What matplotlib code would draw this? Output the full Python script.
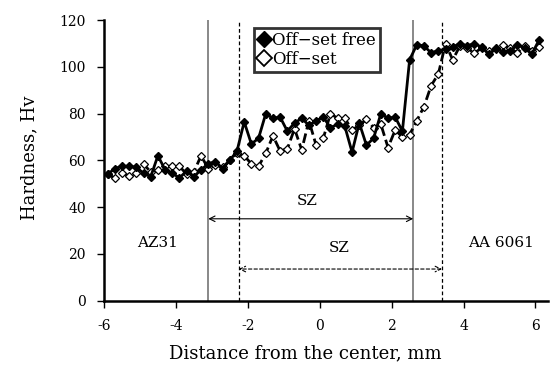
import numpy as np
import matplotlib
matplotlib.use("Agg")
import matplotlib.pyplot as plt
from matplotlib.lines import Line2D

# Hardness profile across the weld
distance = np.round(np.arange(-5.9, 6.11, 0.2), 1)

offset_free = [54, 56.5, 57.5, 57.5, 57, 54.5, 53, 62, 56, 54.5,
               52.5, 55.5, 53, 56, 58.5, 59.5, 56.5, 60, 64, 76.5,
               67, 69.5, 80, 78, 78.5, 72.5, 76, 78, 75, 77,
               78.5, 74, 75.5, 74.5, 63.5, 76, 66.5, 69.5, 80, 78,
               78.5, 72.5, 103, 109.5, 109, 106, 107, 107.5, 108.5, 110,
               109, 110, 108.5, 105.5, 108, 106.5, 107, 109.5, 108, 105.5,
               111.5]

offset = [54, 52.5, 54.5, 53.5, 54.5, 58.5, 55, 56, 57.5, 57.5,
          57.5, 54, 55, 62, 56.5, 58, 57, 60, 63, 62,
          58.5, 57.5, 63, 70.5, 64, 65, 73.5, 64.5, 77, 66.5,
          69.5, 80, 78, 78, 73, 75, 77.5, 74, 75.5, 65.5,
          73, 70, 71, 77, 83, 92, 97, 110, 103, 109,
          108, 106, 108, 107, 107.5, 109.5, 108, 106, 109, 107,
          108.5]

# zone boundaries (mm)
sz_free = (-3.1, 2.6)
sz_offset = (-2.25, 3.4)

plt.rcParams["font.family"] = ["DejaVu Serif"]
plt.rcParams["axes.unicode_minus"] = False

fig = plt.figure(figsize=(5.53, 3.67), dpi=100)
ax = fig.add_axes([0.188, 0.181, 0.803, 0.764])

# zone boundary lines
for xv in sz_free:
    ax.axvline(xv, color="#7f7f7f", lw=1.3, zorder=1)
for xv in sz_offset:
    ax.axvline(xv, color="black", lw=0.9, ls=(0, (3, 2)), zorder=1)

ax.plot(distance, offset, color="black", lw=2, ls=(0, (3.5, 1.5)),
        marker="D", ms=4.5, mfc="white", mec="black", mew=0.9, zorder=3)
ax.plot(distance, offset_free, color="black", lw=2,
        marker="D", ms=4.5, mfc="black", mec="black", zorder=4)

# SZ arrows
ax.annotate("", xy=(sz_free[0], 35), xytext=(sz_free[1], 35),
            arrowprops=dict(arrowstyle="<->", color="black", lw=0.8,
                            shrinkA=0, shrinkB=0))
ax.annotate("", xy=(sz_offset[0], 13.5), xytext=(sz_offset[1], 13.5),
            arrowprops=dict(arrowstyle="<->", color="black", lw=0.8,
                            ls=(0, (3, 2)), shrinkA=0, shrinkB=0))

ax.text(-0.35, 42.5, "SZ", ha="center", va="center", fontsize=11)
ax.text(0.55, 22.5, "SZ", ha="center", va="center", fontsize=11)
ax.text(-4.5, 24.5, "AZ31", ha="center", va="center", fontsize=11)
ax.text(5.05, 24.5, "AA 6061", ha="center", va="center", fontsize=11)

handles = [
    Line2D([], [], ls="none", marker="D", ms=8, mfc="black", mec="black"),
    Line2D([], [], ls="none", marker="D", ms=8, mfc="white", mec="black", mew=1.3),
]
leg = ax.legend(handles, ["Off\u2212set free", "Off\u2212set"],
                loc="upper left", bbox_to_anchor=(0.338, 0.972),
                fontsize=12, frameon=True, fancybox=False,
                handlelength=0.7, handletextpad=0.15, borderpad=0.25,
                labelspacing=0.12, borderaxespad=0)
leg.get_frame().set_edgecolor("black")
leg.get_frame().set_linewidth(2)

ax.set_xlim(-6, 6.35)
ax.set_ylim(0, 120)
ax.set_xticks([-6, -4, -2, 0, 2, 4, 6])
ax.set_yticks(np.arange(0, 121, 20))
ax.spines["top"].set_visible(False)
ax.spines["right"].set_visible(False)
ax.spines["left"].set_linewidth(1.8)
ax.spines["bottom"].set_linewidth(1.8)
ax.tick_params(direction="out", length=5, width=1, labelsize=10, pad=8)

ax.set_xlabel("Distance from the center, mm", fontsize=13)
ax.xaxis.set_label_coords(0.453, -0.155)
ax.set_ylabel("Hardness, Hv", fontsize=13)
ax.yaxis.set_label_coords(-0.148, 0.51)

plt.savefig("out.png", dpi=100)
